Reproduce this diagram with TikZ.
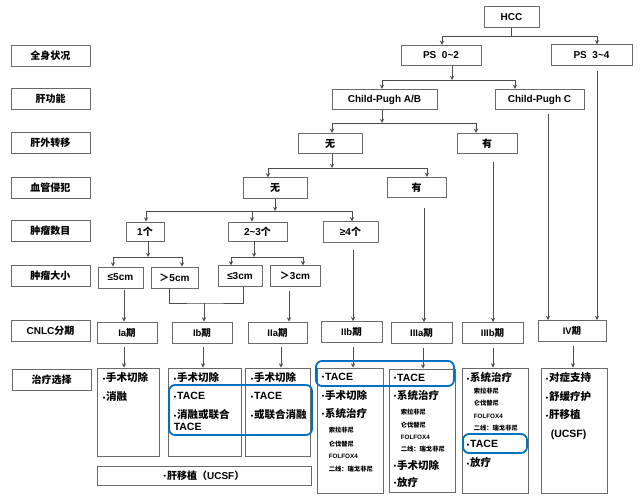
\documentclass[tikz,border=0pt]{standalone}
\usepackage{fontspec}
\setmainfont{Liberation Sans}
\newfontfamily\zhfont{Noto Sans CJK SC}
\newcommand{\zh}[1]{{\zhfont\bfseries #1}}
\newcommand{\itm}{{\fontsize{7}{8}\selectfont\raisebox{0.6pt}{\textbullet}}\hspace{1pt}}
\newcommand{\drug}[1]{\hspace*{7pt}{\fontsize{6.3}{7}\selectfont #1}}
\usepackage{xcolor}
\usepackage{tikz}
\usetikzlibrary{shapes.geometric, arrows}
\usetikzlibrary{positioning}
\definecolor{linegray}{RGB}{75,75,75}
\definecolor{boxgray}{RGB}{105,105,105}
\definecolor{markblue}{RGB}{0,112,192}
\tikzstyle{arrow} = [->,>=stealth,line width=0.9pt,draw=linegray]
\tikzstyle{link} = [line width=0.9pt,draw=linegray]
\tikzstyle{rowbox} = [draw=boxgray, line width=0.9pt, fill=white, rectangle, minimum width=79pt, minimum height=21pt, inner sep=0pt, text centered, font=\fontsize{10}{12}\selectfont\bfseries]
\tikzstyle{treebox} = [draw=boxgray, line width=0.9pt, fill=white, rectangle, minimum height=20.5pt, inner sep=0pt, text centered, font=\fontsize{10}{12}\selectfont\bfseries]
\tikzstyle{curebox} = [draw=boxgray, line width=0.9pt, fill=white, rectangle, inner sep=0pt]
\tikzstyle{curelist} = [anchor=north west, inner sep=0pt, align=left, font=\fontsize{10.5}{13}\selectfont\bfseries]
\tikzstyle{hlbox} = [draw=markblue, line width=1.8pt, rounded corners=6pt]

\begin{document}
\begin{tikzpicture}[x=1pt,y=-1pt]
			\useasboundingbox (0,0) rectangle (640,497);
			% junctions
			\coordinate (J0) at (511.5,36);
			\coordinate (J1) at (452,80);
			\coordinate (J2) at (382,123);
			\coordinate (J3) at (332,168);
			\coordinate (J4) at (275,211);
			\coordinate (J5) at (148,257);
			\coordinate (J6) at (254,257);
			\coordinate (J7) at (204,303);
			% row labels
			\begin{scope}[every node/.style={rowbox}]
			\node (L1) at (50.5,55.5) {\zh{全身状况}};
			\node (L2) at (50.5,99) {\zh{肝功能}};
			\node (L3) at (50.5,143) {\zh{肝外转移}};
			\node (L4) at (50.5,187.5) {\zh{血管侵犯}};
			\node (L5) at (50.5,231) {\zh{肿瘤数目}};
			\node (L6) at (50.5,275.5) {\zh{肿瘤大小}};
			\node (L7) at (50.5,331) {CNLC\zh{分期}};
			\node (L8) at (51.5,379.5) {\zh{治疗选择}};
			\end{scope}
			% tree
			\node[treebox, minimum width=55pt] (N01) at (511.5,17) {HCC};
			\node[treebox, minimum width=80pt] (N11) at (441,55.5) {PS\ \ 0\textasciitilde2};
			\node[treebox, minimum width=81pt] (N12) at (591.5,55) {PS\ \ 3\textasciitilde4};
			\node[treebox, minimum width=105pt] (N21) at (384.5,99.5) {Child-Pugh A/B};
			\node[treebox, minimum width=89pt] (N22) at (539.5,99.5) {Child-Pugh C};
			\node[treebox, minimum width=64pt] (N31) at (330,143.5) {\zh{无}};
			\node[treebox, minimum width=60pt] (N32) at (487,143.5) {\zh{有}};
			\node[treebox, minimum width=64pt] (N41) at (275,188) {\zh{无}};
			\node[treebox, minimum width=59pt] (N42) at (416.5,187.5) {\zh{有}};
			\node[treebox, minimum width=38pt, minimum height=19pt] (N51) at (145,231.5) {1\zh{个}};
			\node[treebox, minimum width=59pt, minimum height=19pt] (N52) at (257.5,231.5) {2\textasciitilde3\zh{个}};
			\node[treebox, minimum width=55pt] (N53) at (350.5,232) {≥4\zh{个}};
			\node[treebox, minimum width=45pt, minimum height=21pt] (N61) at (120.5,277.5) {≤5cm};
			\node[treebox, minimum width=47pt, minimum height=21pt] (N62) at (174.5,277.5) {\zh{＞}5cm};
			\node[treebox, minimum width=44pt] (N63) at (240,276) {≤3cm};
			\node[treebox, minimum width=50pt] (N64) at (295,276) {\zh{＞}3cm};
			% CNLC stages
			\begin{scope}[every node/.style={treebox, minimum height=21pt, font=\fontsize{9.5}{11}\selectfont\bfseries}]
			\node[minimum width=60pt] (S1) at (127,332.5) {Ia\zh{期}};
			\node[minimum width=60pt] (S2) at (202,332.5) {Ib\zh{期}};
			\node[minimum width=59pt] (S3) at (277.5,332.5) {IIa\zh{期}};
			\node[minimum width=61pt] (S4) at (351.5,332) {IIb\zh{期}};
			\node[minimum width=61pt] (S5) at (421.5,333) {IIIa\zh{期}};
			\node[minimum width=61pt] (S6) at (492.5,333) {IIIb\zh{期}};
			\node[minimum width=68pt] (S7) at (572,331) {IV\zh{期}};
			\end{scope}
			% treatment boxes
			\node[curebox, minimum width=62pt, minimum height=88pt] (T1) at (128,412) {};
			\node[curebox, minimum width=73pt, minimum height=88pt] (T2) at (204.5,412) {};
			\node[curebox, minimum width=65pt, minimum height=88pt] (T3) at (277.5,412) {};
			\node[curebox, minimum width=66pt, minimum height=125pt] (T4) at (350,430.5) {};
			\node[curebox, minimum width=66pt, minimum height=123pt] (T5) at (422,430.5) {};
			\node[curebox, minimum width=66pt, minimum height=125pt] (T6) at (495,430.5) {};
			\node[curebox, minimum width=66pt, minimum height=125pt] (T7) at (574,430.5) {};
			\node[curebox, minimum width=214pt, minimum height=19pt, font=\fontsize{10}{12}\selectfont\bfseries] (T8) at (204,475.5) {\itm\zh{肝移植（}UCSF\zh{）}};
			% treatment texts
			\node[curelist] (T1t) at ([xshift=6pt,yshift=-5pt]T1.north west) {\itm\zh{手术切除}\\[6pt]\itm\zh{消融}};
			\node[curelist] (T2t) at ([xshift=6pt,yshift=-5pt]T2.north west) {\itm\zh{手术切除}\\[5pt]\itm TACE\\[6pt]\itm\zh{消融或联合}\\[-1pt]TACE};
			\node[curelist] (T3t) at ([xshift=6pt,yshift=-5pt]T3.north west) {\itm\zh{手术切除}\\[5pt]\itm TACE\\[6pt]\itm\zh{或联合消融}};
			\node[curelist] (T4t) at ([xshift=5pt,yshift=-5pt]T4.north west) {\itm TACE\\[6pt]\itm\zh{手术切除}\\[5pt]\itm\zh{系统治疗}\\[2pt]\drug{\zh{索拉非尼}}\\[1pt]\drug{\zh{仑伐替尼}}\\[-0.5pt]\drug{FOLFOX4}\\[-0.5pt]\drug{\zh{二线：瑞戈非尼}}};
			\node[curelist] (T5t) at ([xshift=5pt,yshift=-5pt]T5.north west) {\itm TACE\\[5pt]\itm\zh{系统治疗}\\[2.5pt]\drug{\zh{索拉非尼}}\\\drug{\zh{仑伐替尼}}\\[-1pt]\drug{FOLFOX4}\\[-1pt]\drug{\zh{二线：瑞戈非尼}}\\[4.5pt]\itm\zh{手术切除}\\[4pt]\itm\zh{放疗}};
			\node[curelist] (T6t) at ([xshift=5pt,yshift=-5pt]T6.north west) {\itm\zh{系统治疗}\\[-1.5pt]\drug{\zh{索拉非尼}}\\[-1pt]\drug{\zh{仑伐替尼}}\\\drug{FOLFOX4}\\[-1pt]\drug{\zh{二线：瑞戈非尼}}\\[4.5pt]\itm TACE\\[6pt]\itm\zh{放疗}};
			\node[curelist] (T7t) at ([xshift=5pt,yshift=-5pt]T7.north west) {\itm\zh{对症支持}\\[6pt]\itm\zh{舒缓疗护}\\[5pt]\itm\zh{肝移植}\\[6pt]\hspace*{5pt}(UCSF)};
			% HCC
			\draw[link] (N01) -- (J0);
			\draw[arrow] (J0) -| ([xshift=1pt]N11.north);
			\draw[arrow] (J0) -| ([xshift=5.5pt]N12.north);
			% PS 0~2
			\draw[arrow] ([xshift=11pt]N11.south) -- (J1);
			\draw[arrow] (J1) -| ([xshift=-2.5pt]N21.north);
			\draw[arrow] (J1) -| ([xshift=-24.5pt]N22.north);
			% Child-Pugh A/B
			\draw[arrow] ([xshift=-2.5pt]N21.south) -- (J2);
			\draw[arrow] (J2) -| ([xshift=2pt]N31.north);
			\draw[arrow] (J2) -| ([xshift=-11pt]N32.north);
			% Child-Pugh C, PS 3~4
			\draw[arrow, shorten <=4pt] ([xshift=8.5pt]N22.south) -- ([xshift=8.5pt]N22.south |- S7.north);
			\draw[arrow, shorten <=5pt] ([xshift=5.5pt]N12.south) -- ([xshift=5.5pt]N12.south |- S7.north);
			% extrahepatic
			\draw[arrow] ([xshift=2pt]N31.south) -- (J3);
			\draw[arrow] (J3) -| ([xshift=-7pt]N41.north);
			\draw[arrow] (J3) -| ([xshift=10.5pt]N42.north);
			\draw[arrow, shorten <=8pt] ([xshift=6pt]N32.south) -- ([xshift=6pt]N32.south |- S6.north);
			% vascular
			\draw[arrow] (N41.south) -- (J4);
			\draw[arrow] (J4) -| ([xshift=1pt]N51.north);
			\draw[arrow] (J4) -| ([xshift=-5.5pt]N52.north);
			\draw[arrow] (J4) -| ([xshift=1.5pt]N53.north);
			\draw[arrow, shorten <=10pt] ([xshift=7.5pt]N42.south) -- ([xshift=7.5pt]N42.south |- S5.north);
			% number
			\draw[arrow] ([xshift=3pt]N51.south) -- (J5);
			\draw[arrow] (J5) -| ([xshift=-7.5pt]N61.north);
			\draw[arrow] (J5) -| ([xshift=7.5pt]N62.north);
			\draw[arrow] ([xshift=-3.5pt]N52.south) -- (J6);
			\draw[arrow] (J6) -| ([xshift=-9pt]N63.north);
			\draw[arrow] (J6) -| ([xshift=8pt]N64.north);
			\draw[arrow, shorten <=7pt] ([xshift=2.5pt]N53.south) -- ([xshift=2.5pt]N53.south |- S4.north);
			% size
			\draw[arrow, shorten <=2pt] ([xshift=3.5pt]N61.south) -- ([xshift=3.5pt]N61.south |- S1.north);
			\draw[link] ([xshift=-5.5pt]N62.south) |- (J7) -| ([xshift=3pt]N63.south);
			\draw[arrow] (J7) -- (J7 |- S2.north);
			\draw[arrow, shorten <=4pt] ([xshift=-6pt]N64.south) -- ([xshift=-6pt]N64.south |- S3.north);
			% stage to treatment
			\draw[arrow, shorten <=4pt] ([xshift=-3pt]S1.south) -- ([xshift=-3pt]S1.south |- T1.north);
			\draw[arrow, shorten <=4pt] ([xshift=1pt]S2.south) -- ([xshift=1pt]S2.south |- T2.north);
			\draw[arrow, shorten <=4pt] ([xshift=3.5pt]S3.south) -- ([xshift=3.5pt]S3.south |- T3.north);
			\draw[arrow, shorten <=4pt] ([xshift=1.5pt]S4.south) -- ([xshift=1.5pt]S4.south |- T4.north);
			\draw[arrow, shorten <=4pt] ([xshift=1.5pt]S5.south) -- ([xshift=1.5pt]S5.south |- T5.north);
			\draw[arrow, shorten <=4pt] ([xshift=0.5pt]S6.south) -- ([xshift=0.5pt]S6.south |- T6.north);
			\draw[arrow, shorten <=4pt] ([xshift=1pt]S7.south) -- ([xshift=1pt]S7.south |- T7.north);
			% highlighted options
			\draw[hlbox] (169,385) rectangle (312,435);
			\draw[hlbox] (316,361) rectangle (454,386);
			\draw[hlbox] (463,434) rectangle (527,453);
\end{tikzpicture}
\end{document}
